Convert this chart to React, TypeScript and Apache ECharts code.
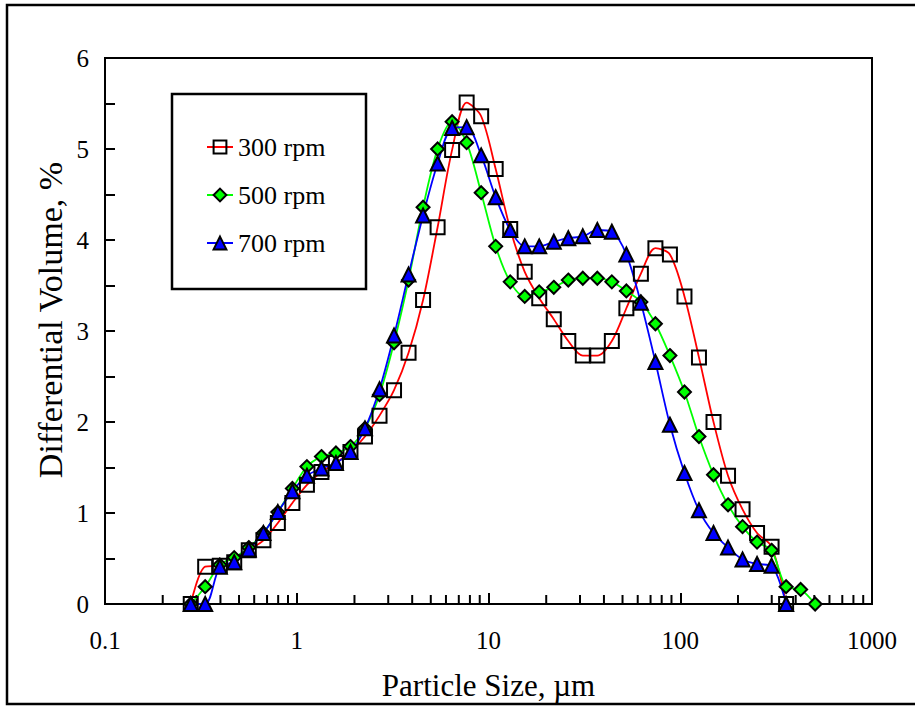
import React, { useEffect, useRef } from "react";
import * as echarts from "echarts";

// Particle size bins (µm)
const particleSizes = [
  0.28, 0.333, 0.397, 0.472, 0.562, 0.67, 0.797, 0.949, 1.13, 1.345,
  1.601, 1.906, 2.269, 2.702, 3.216, 3.829, 4.558, 5.427, 6.46, 7.691,
  9.156, 10.9, 12.98, 15.45, 18.39, 21.9, 26.07, 31.03, 36.94, 43.98,
  52.36, 62.33, 74.21, 88.34, 105.2, 125.2, 149.1, 177.5, 211.3, 251.5,
  299.4, 356.5, 424.4, 505.2,
];

// Differential volume, %
const rpm300 = [
  0, 0.41, 0.42, 0.46, 0.59, 0.7, 0.89, 1.11, 1.31, 1.45,
  1.55, 1.67, 1.84, 2.07, 2.35, 2.76, 3.34, 4.14, 4.99, 5.51,
  5.36, 4.78, 4.12, 3.65, 3.36, 3.13, 2.89, 2.73, 2.73, 2.89,
  3.25, 3.63, 3.91, 3.84, 3.38, 2.71, 2.0, 1.41, 1.04, 0.78,
  0.63, 0,
];
const rpm500 = [
  0, 0.19, 0.43, 0.51, 0.62, 0.78, 1.01, 1.27, 1.51, 1.62,
  1.66, 1.73, 1.93, 2.3, 2.87, 3.56, 4.36, 5.0, 5.3, 5.07,
  4.52, 3.93, 3.54, 3.38, 3.43, 3.48, 3.56, 3.58, 3.58, 3.54,
  3.44, 3.32, 3.08, 2.73, 2.33, 1.84, 1.42, 1.09, 0.85, 0.68,
  0.59, 0.19, 0.16, 0,
];
const rpm700 = [
  0, 0, 0.41, 0.46, 0.6, 0.78, 1.01, 1.24, 1.41, 1.49,
  1.55, 1.67, 1.93, 2.36, 2.95, 3.62, 4.27, 4.84, 5.23, 5.24,
  4.93, 4.47, 4.11, 3.93, 3.93, 3.98, 4.02, 4.04, 4.11, 4.09,
  3.84, 3.31, 2.66, 1.97, 1.44, 1.03, 0.78, 0.62, 0.49, 0.44,
  0.42, 0,
];

const seriesNames = ["300 rpm", "500 rpm", "700 rpm"];
const xTickLabels = ["0.1", "1", "10", "100", "1000"];
const xMinorTicks = [
  0.2, 0.3, 0.4, 0.5, 0.6, 0.7, 0.8, 0.9,
  2, 3, 4, 5, 6, 7, 8, 9,
  20, 30, 40, 50, 60, 70, 80, 90,
  200, 300, 400, 500, 600, 700, 800, 900,
];
const xTitle = "Particle Size, µm";
const yTitle = "Differential Volume, %";

const FONT = "'Liberation Serif', 'Times New Roman', serif";

function pairs(vals: number[]) {
  return vals.map((v, i) => [particleSizes[i], v]);
}

export default function App() {
  const ref = useRef<HTMLDivElement>(null);
  useEffect(() => {
    if (!ref.current) return;
    const chart = echarts.init(ref.current, undefined, { renderer: "svg" });
    const lineCommon = {
      type: "line",
      smooth: 0.3,
      z: 3,
    };
    chart.setOption({
      animation: false,
      backgroundColor: "#fff",
      grid: {
        left: 105,
        right: 43,
        top: 58,
        bottom: 103,
        show: true,
        borderColor: "#000",
        borderWidth: 2,
      },
      legend: {
        data: seriesNames,
        orient: "vertical",
        left: 201,
        top: 129,
        itemWidth: 26,
        itemHeight: 16,
        itemGap: 22,
        textStyle: { fontFamily: FONT, fontSize: 26, color: "#000", lineHeight: 26 },
      },
      xAxis: {
        type: "log",
        logBase: 10,
        min: 0.1,
        max: 1000,
        name: xTitle,
        nameLocation: "middle",
        nameGap: 66,
        nameTextStyle: { fontFamily: FONT, fontSize: 31, color: "#000" },
        axisLine: { lineStyle: { color: "#000", width: 2 } },
        axisTick: { inside: true, length: 11, lineStyle: { color: "#000", width: 2 } },
        axisLabel: {
          fontFamily: FONT,
          fontSize: 25,
          color: "#000",
          margin: 24,
          formatter: (v: number) => {
            const idx = Math.round(Math.log10(v)) + 1;
            return xTickLabels[idx] ?? String(v);
          },
        },
        splitLine: { show: false },
      },
      yAxis: {
        type: "value",
        min: 0,
        max: 6,
        interval: 1,
        axisLine: { lineStyle: { color: "#000", width: 2 } },
        axisTick: { inside: true, length: 10, lineStyle: { color: "#000", width: 2 } },
        minorTick: { show: true, splitNumber: 2, length: 10, lineStyle: { color: "#000", width: 2 } },
        axisLabel: { fontFamily: FONT, fontSize: 25, color: "#000", margin: 16 },
        splitLine: { show: false },
      },
      graphic: [
        {
          type: "rect",
          shape: { x: 7, y: 5, width: 915, height: 699 },
          style: { fill: "none", stroke: "#000", lineWidth: 2.5 },
          silent: true,
        },
        {
          type: "rect",
          shape: { x: 172, y: 94, width: 194, height: 195 },
          style: { fill: "none", stroke: "#000", lineWidth: 2.5 },
          silent: true,
        },
        {
          type: "text",
          x: 50,
          y: 320,
          rotation: Math.PI / 2,
          style: {
            text: yTitle,
            fontFamily: FONT,
            fontSize: 34,
            fill: "#000",
            textAlign: "center",
            textVerticalAlign: "middle",
          },
          silent: true,
        },
      ],
      series: [
        {
          type: "custom",
          name: "minor-ticks",
          coordinateSystem: "cartesian2d",
          silent: true,
          z: 1,
          data: xMinorTicks.map((v) => [v, 0]),
          renderItem: (_params: any, api: any) => {
            const p = api.coord([api.value(0), 0]);
            return {
              type: "line",
              shape: { x1: p[0], y1: p[1], x2: p[0], y2: p[1] - 9 },
              style: { stroke: "#000", lineWidth: 2 },
            };
          },
        },
        {
          ...lineCommon,
          name: seriesNames[0],
          data: pairs(rpm300),
          symbol: "rect",
          symbolSize: 14,
          lineStyle: { color: "#ff0000", width: 1.8 },
          itemStyle: { color: "rgba(255,255,255,0)", borderColor: "#000", borderWidth: 2 },
        },
        {
          ...lineCommon,
          name: seriesNames[1],
          data: pairs(rpm500),
          symbol: "diamond",
          symbolSize: 13,
          lineStyle: { color: "#00ff00", width: 1.8 },
          itemStyle: { color: "#00ff00", borderColor: "#000", borderWidth: 2 },
        },
        {
          ...lineCommon,
          name: seriesNames[2],
          data: pairs(rpm700),
          symbol: "triangle",
          symbolSize: 14,
          lineStyle: { color: "#0000ff", width: 1.8 },
          itemStyle: { color: "#0000ff", borderColor: "#000", borderWidth: 2 },
        },
      ],
    });
    return () => chart.dispose();
  }, []);
  return (
    <div
      ref={ref}
      style={{ position: "absolute", left: 0, top: 0, width: 915, height: 707, background: "#fff" }}
    />
  );
}
